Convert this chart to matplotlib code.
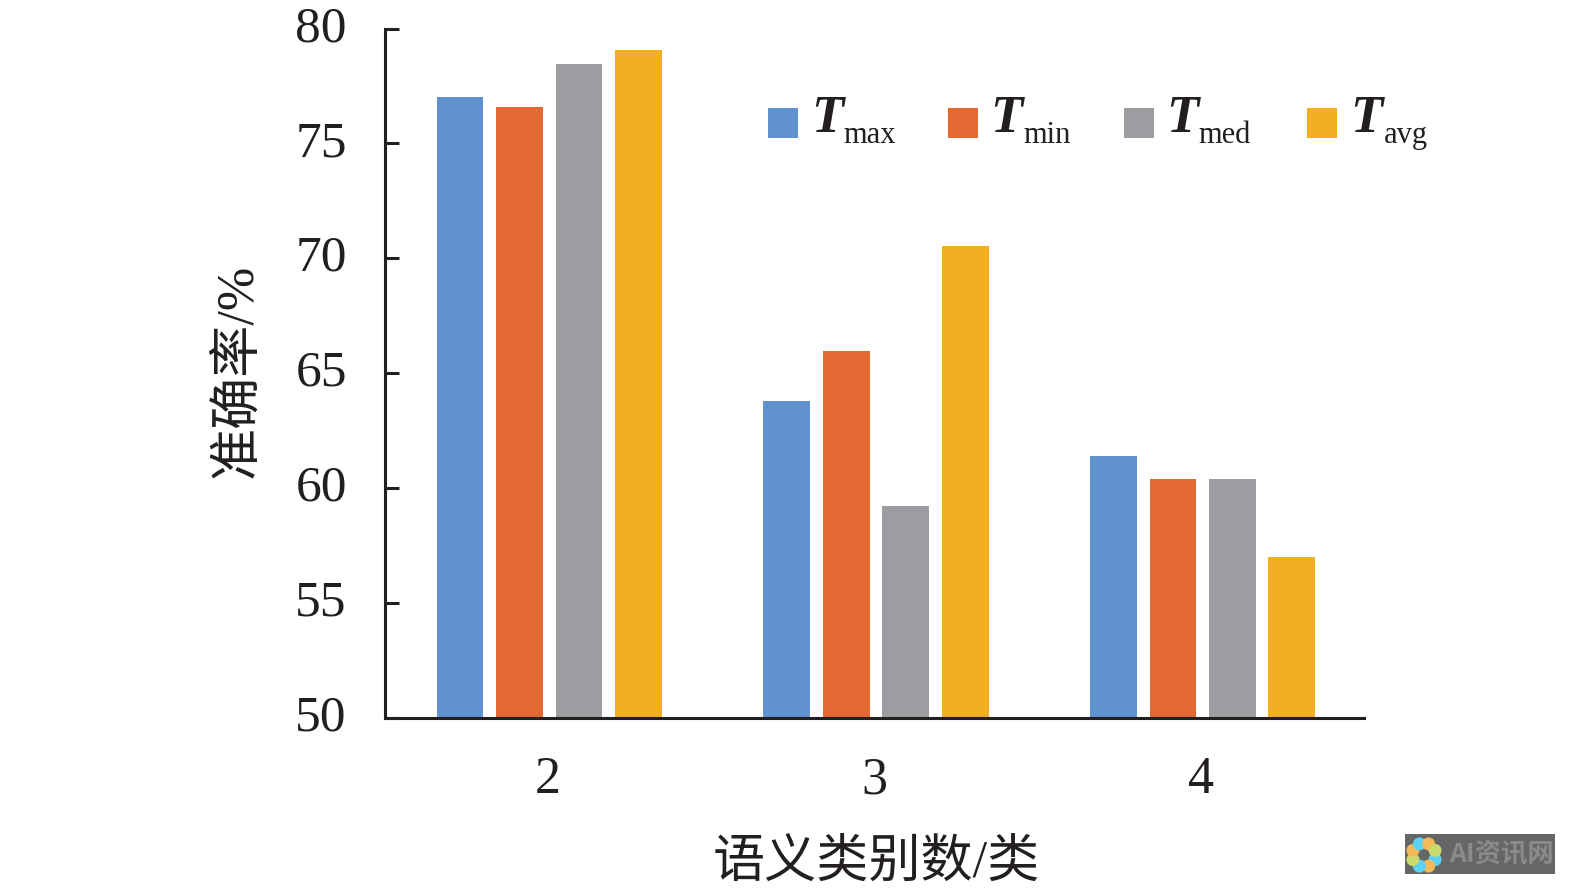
import numpy as np
import matplotlib
matplotlib.use("Agg")
import matplotlib.pyplot as plt
from matplotlib.patches import Rectangle, Circle
from matplotlib.transforms import ScaledTranslation

plt.rcParams["font.family"] = ["Liberation Serif", "Noto Sans CJK SC", "DejaVu Sans"]

W, H = 1575, 894

categories = ["2", "3", "4"]
series = ["max", "min", "med", "avg"]
t_max = [77.0, 63.8, 61.4]
t_min = [76.6, 65.95, 60.4]
t_med = [78.45, 59.2, 60.4]
t_avg = [79.05, 70.55, 57.0]
colors = ["#5F92CE", "#E46832", "#9C9DA0", "#F1AF21"]
y_ticks = [50, 55, 60, 65, 70, 75, 80]
ylabel = "准确率/%"
xlabel = "语义类别数/类"

# legend layout in image pixels: swatch left, T left, subscript left
legend_px = [(768, 811, 843), (948, 990, 1023), (1124, 1166, 1198), (1307, 1350, 1384)]
petal_colors = ["#5CD3F5", "#F5B85A", "#5CD3F5", "#C9D96B", "#F5B85A", "#5CD3F5", "#F5B85A", "#C9D96B"]


def fx(px):
    return px / W


def fy(py):
    return 1 - py / H


fig = plt.figure(figsize=(W / 100, H / 100), dpi=100)
ax = fig.add_axes([fx(385), fy(717.5), fx(1364 - 385), (717.5 - 28.5) / H])

x = np.arange(len(categories))
step = 0.182
w = 0.143
for i, vals in enumerate([t_max, t_min, t_med, t_avg]):
    ax.bar(x + (i - 1.5) * step, vals, w, color=colors[i], label="T" + series[i])

ax.set_xlim(-0.503, 2.494)
ax.set_ylim(50, 80)
ax.set_yticks(y_ticks)
ax.set_xticks(x, categories)
ax.spines[["top", "right"]].set_visible(False)
ax.spines[["left", "bottom"]].set_linewidth(2.2)
ax.spines[["left", "bottom"]].set_color("#231F20")
ax.tick_params(axis="y", direction="in", length=10, width=2.2, color="#231F20",
               labelsize=37, labelcolor="#231F20", pad=27.5)
ax.tick_params(axis="x", length=0, labelsize=37.5, labelcolor="#231F20", pad=28)

# the y tick labels sit a bit above their ticks in the original
up = ScaledTranslation(0, 5 / 100, fig.dpi_scale_trans)
for lab in ax.get_yticklabels():
    lab.set_transform(lab.get_transform() + up)
left = ScaledTranslation(-2 / 100, 0, fig.dpi_scale_trans)
for lab in ax.get_xticklabels():
    lab.set_transform(lab.get_transform() + left)

fig.text(fx(238), fy(371), ylabel, rotation=90, ha="center", va="center", fontsize=37.5, color="#231F20")
fig.text(fx(876), fy(865), xlabel, ha="center", va="center", fontsize=37.5, color="#231F20")

# legend
for (sx, tx, subx), name, c in zip(legend_px, series, colors):
    fig.add_artist(Rectangle((fx(sx), fy(138)), 30 / W, 30 / H, transform=fig.transFigure, color=c, lw=0))
    fig.text(fx(tx), fy(132), "T", fontsize=38, style="italic", weight="bold", color="#231F20",
             ha="left", va="baseline")
    fig.text(fx(subx), fy(143), name, fontsize=22, color="#231F20", ha="left", va="baseline")

# watermark
fig.add_artist(Rectangle((fx(1405), fy(874)), 150 / W, 40 / H, transform=fig.transFigure, color="#666666", lw=0))
for k, pc in enumerate(petal_colors):
    a = np.pi / 8 + k * np.pi / 4
    cx, cy = 1424 + 12 * np.cos(a), 855 + 12 * np.sin(a)
    fig.add_artist(Circle((cx, H - cy), 6.5, transform=None, color=pc, lw=0))
fig.text(fx(1449), fy(855), "AI资讯网", fontsize=19, weight="bold", style="italic", color="#8A8A8A",
         family=["Noto Sans CJK SC", "DejaVu Sans"], ha="left", va="center")

fig.savefig("out.png", dpi=100)
